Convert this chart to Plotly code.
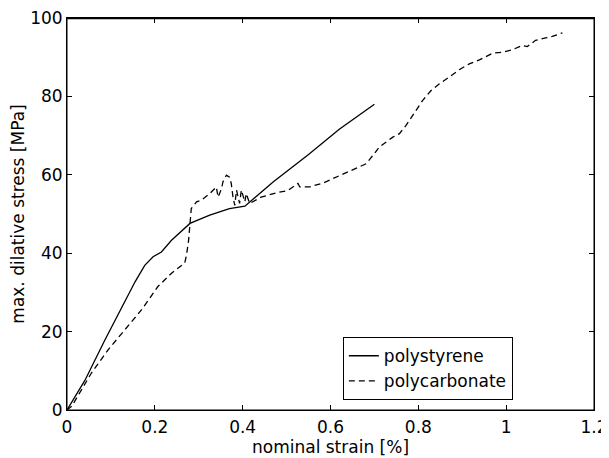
import plotly.graph_objects as go

# polystyrene (solid)
ps_strain = [0.0, 0.041, 0.086, 0.132, 0.155, 0.177, 0.196, 0.215, 0.238, 0.280, 0.325, 0.370, 0.405,
             0.47, 0.55, 0.62, 0.70]
ps_stress = [0.0, 7.6, 17.8, 27.6, 32.7, 36.9, 39.1, 40.3, 43.3, 47.6, 49.7, 51.4, 52.0,
             58.2, 65.2, 71.6, 78.0]

# polycarbonate (dashed)
pc_strain = [0.0, 0.011, 0.056, 0.094, 0.132, 0.170, 0.207, 0.238, 0.268, 0.272, 0.277, 0.283,
             0.295, 0.306, 0.325, 0.340, 0.344, 0.352, 0.355, 0.363, 0.370, 0.374, 0.378, 0.382,
             0.386, 0.393, 0.397, 0.405, 0.408, 0.416, 0.442, 0.477, 0.503, 0.526, 0.530, 0.552,
             0.583, 0.605, 0.628, 0.658, 0.681, 0.700, 0.711, 0.742, 0.757, 0.772, 0.787, 0.810,
             0.829, 0.848, 0.870, 0.893, 0.916, 0.939, 0.969, 0.992, 1.014, 1.037, 1.048, 1.067,
             1.090, 1.105, 1.128]
pc_stress = [0.0, 1.0, 9.5, 15.4, 20.5, 25.6, 31.5, 34.9, 37.5, 39.4, 43.4, 51.4,
             53.1, 53.5, 55.2, 56.9, 54.3, 56.5, 58.2, 59.9, 59.4, 57.8, 54.3, 52.2,
             56.1, 52.7, 56.1, 53.1, 55.2, 52.7, 54.3, 55.4, 56.0, 57.8, 56.9, 56.9,
             57.9, 59.0, 60.3, 61.6, 62.8, 65.4, 67.1, 69.6, 70.5, 72.6, 75.2, 79.0,
             81.5, 83.2, 84.9, 86.8, 88.3, 89.3, 91.0, 91.3, 91.9, 93.0, 92.7, 94.3,
             94.9, 95.3, 96.2]

x_ticks = [0, 0.2, 0.4, 0.6, 0.8, 1.0, 1.2]
x_tick_labels = ["0", "0.2", "0.4", "0.6", "0.8", "1", "1.2"]
y_ticks = [0, 20, 40, 60, 80, 100]

font = dict(family="DejaVu Sans", size=17, color="black")

fig = go.Figure()
fig.add_trace(go.Scatter(x=ps_strain, y=ps_stress, mode="lines", name="polystyrene",
                         line=dict(color="black", width=1.3)))
fig.add_trace(go.Scatter(x=pc_strain, y=pc_stress, mode="lines", name="polycarbonate",
                         line=dict(color="black", width=1.3, dash="6px,4px")))

axis_common = dict(showgrid=False, zeroline=False, showline=True, linecolor="black",
                   linewidth=1, mirror="ticks", ticks="inside", ticklen=5,
                   tickcolor="black", tickwidth=1, tickfont=font, automargin=False,
                   ticklabeloverflow="allow")

fig.update_xaxes(range=[0, 1.2], tickvals=x_ticks, ticktext=x_tick_labels,
                 ticklabelstandoff=2,
                 title=dict(text="nominal strain [%]", font=font, standoff=3), **axis_common)
fig.update_yaxes(range=[0, 100], tickvals=y_ticks, ticklabelstandoff=0,
                 title=dict(text="max. dilative stress [MPa]", font=font, standoff=4), **axis_common)

# box frame around the plot area (top edge drawn explicitly)
fig.add_shape(type="rect", xref="paper", yref="paper", x0=0, y0=0, x1=1, y1=1,
              line=dict(color="black", width=1), fillcolor="rgba(0,0,0,0)", layer="above")
fig.add_shape(type="line", xref="paper", yref="paper", x0=0, y0=0.999, x1=1, y1=0.999,
              line=dict(color="black", width=1.5), layer="above")

# page body has an 8px default margin, so the figure is sized/offset to compensate
fig.update_layout(
    width=601, height=450,
    margin=dict(l=59, r=15, t=10, b=48),
    plot_bgcolor="white", paper_bgcolor="white",
    font=font,
    legend=dict(x=0.846, y=0.025, xanchor="right", yanchor="bottom",
                bordercolor="black", borderwidth=1, bgcolor="white",
                font=font, tracegroupgap=0),
)

fig.write_html("out.html")
